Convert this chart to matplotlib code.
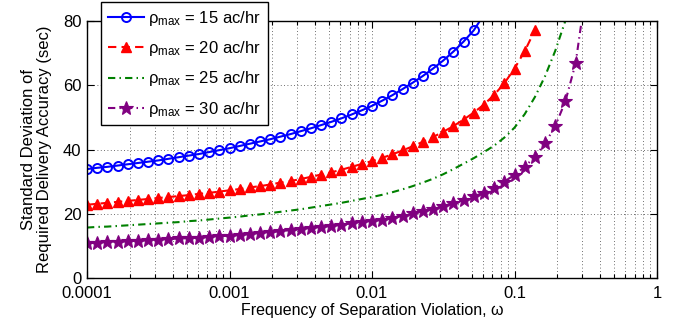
import numpy as np
import matplotlib
matplotlib.use('Agg')
import matplotlib.pyplot as plt
from matplotlib.ticker import LogLocator, NullFormatter

plt.rcParams['font.family'] = ['Liberation Sans', 'DejaVu Sans']
plt.rcParams['mathtext.fontset'] = 'custom'
plt.rcParams['mathtext.rm'] = 'Liberation Sans'

# frequency of separation violation (14 samples per decade)
mantissa = [1.000, 1.179, 1.389, 1.638, 1.931, 2.276, 2.683,
            3.162, 3.728, 4.394, 5.179, 6.105, 7.197, 8.483]
decades = [-4, -3, -2, -1]
omega = np.array([m * 10.0 ** d for d in decades for m in mantissa])

# std. deviation of required delivery accuracy (sec)
sd_15 = [33.9, 34.3, 34.6, 35.0, 35.4, 35.8, 36.2, 36.6, 37.1, 37.6,
         38.1, 38.6, 39.2, 39.8, 40.4, 41.1, 41.8, 42.5, 43.2, 44.0,
         44.8, 45.7, 46.6, 47.6, 48.6, 49.7, 50.9, 52.2, 53.6, 55.2,
         56.9, 58.8, 60.8, 62.9, 65.2, 67.7, 70.5, 73.6, 77.1, 82.0]
sd_20 = [22.8, 23.1, 23.4, 23.7, 24.0, 24.3, 24.6, 24.9, 25.2, 25.5,
         25.8, 26.2, 26.5, 26.9, 27.3, 27.7, 28.2, 28.6, 29.1, 29.7,
         30.2, 30.8, 31.5, 32.2, 32.9, 33.7, 34.6, 35.5, 36.4, 37.4,
         38.5, 39.7, 41.0, 42.4, 43.9, 45.5, 47.3, 49.3, 51.5, 54.0,
         57.0, 60.6, 65.2, 70.6, 77.1, 86.0]
sd_25 = [15.7, 15.9, 16.0, 16.2, 16.4, 16.6, 16.8, 17.0, 17.2, 17.4,
         17.7, 17.9, 18.2, 18.5, 18.8, 19.1, 19.5, 19.8, 20.2, 20.6,
         21.0, 21.4, 21.9, 22.4, 22.9, 23.4, 24.0, 24.6, 25.2, 25.9,
         26.7, 27.6, 28.6, 29.7, 30.9, 32.3, 33.9, 35.6, 37.3, 39.2,
         41.2, 43.7, 46.8, 51.0, 56.3, 62.8, 70.7, 80.1, 92.0]
sd_30 = [10.9, 11.0, 11.2, 11.3, 11.5, 11.6, 11.8, 11.9, 12.1, 12.3,
         12.4, 12.6, 12.8, 13.0, 13.2, 13.5, 13.7, 14.0, 14.3, 14.6,
         14.9, 15.3, 15.6, 15.9, 16.3, 16.6, 17.0, 17.4, 17.8, 18.2,
         18.8, 19.4, 20.1, 20.8, 21.6, 22.4, 23.3, 24.3, 25.4, 26.6,
         28.1, 30.0, 32.1, 34.6, 37.8, 41.9, 47.3, 55.0, 66.8, 89.0]

labels = [r'$\mathregular{ρ_{max}}$ = 15 ac/hr',
          r'$\mathregular{ρ_{max}}$ = 20 ac/hr',
          r'$\mathregular{ρ_{max}}$ = 25 ac/hr',
          r'$\mathregular{ρ_{max}}$ = 30 ac/hr']
xtick_labels = ['0.0001', '0.001', '0.01', '0.1', '1']

fig = plt.figure(figsize=(6.84, 3.28), dpi=100)
ax = fig.add_axes([87 / 684, 1 - 278 / 328, 570 / 684, 257 / 328])

ax.plot(omega[:len(sd_15)], sd_15, color='blue', lw=1.5, ls='-',
        marker='o', ms=6.5, mfc='none', mew=1.4, label=labels[0])
ax.plot(omega[:len(sd_20)], sd_20, color='red', lw=1.5, dashes=(4, 2.5),
        marker='^', ms=7, mfc='red', mew=1.0, label=labels[1])
ax.plot(omega[:len(sd_25)], sd_25, color='green', lw=1.5,
        dashes=(3.5, 2, 0.7, 2), label=labels[2])
ax.plot(omega[:len(sd_30)], sd_30, color='purple', lw=1.5,
        dashes=(3.5, 2, 0.7, 2), marker='*', ms=10, mfc='purple',
        mew=0.8, label=labels[3])

ax.set_xscale('log')
ax.set_xlim(1e-4, 1)
ax.set_ylim(0, 80)
ax.set_yticks([0, 20, 40, 60, 80])
ax.set_xticks([1e-4, 1e-3, 1e-2, 1e-1, 1])
ax.set_xticklabels(xtick_labels)
ax.xaxis.set_minor_locator(LogLocator(base=10, subs=np.arange(2, 10)))
ax.xaxis.set_minor_formatter(NullFormatter())

ax.grid(True, which='major', axis='both', color='0.25',
        linestyle=(0, (1, 3)), lw=0.6)
ax.grid(True, which='minor', axis='x', color='0.25',
        linestyle=(0, (1, 3)), lw=0.6)

ax.tick_params(which='both', direction='in', top=True, right=True,
               labelsize=12, width=0.8)
ax.tick_params(which='major', length=5, pad=4)
ax.tick_params(axis='x', which='major', pad=5.5)
ax.tick_params(which='minor', length=3)
for sp in ax.spines.values():
    sp.set_linewidth(1.0)

ax.set_xlabel('Frequency of Separation Violation, ω', fontsize=11.5,
              labelpad=1.5)
ax.set_ylabel('Standard Deviation of\nRequired Delivery Accuracy (sec)',
              fontsize=12, linespacing=1.1)
ax.yaxis.set_label_coords(-0.061, 0.5)

leg = ax.legend(loc='upper left', bbox_to_anchor=(101 / 684, 1 - 2 / 328),
                bbox_transform=fig.transFigure, borderaxespad=0,
                fontsize=12, frameon=True, fancybox=False, framealpha=1,
                edgecolor='black', handlelength=2.2, handletextpad=0.25,
                labelspacing=0.68, borderpad=0.4)
leg.get_frame().set_linewidth(1.0)
leg.set_zorder(10)

fig.savefig('out.png', dpi=100)
